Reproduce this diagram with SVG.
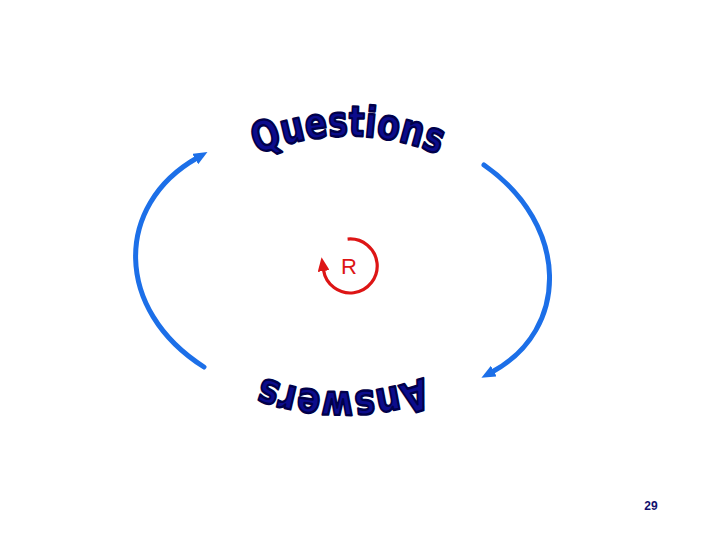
<svg xmlns="http://www.w3.org/2000/svg" xmlns:xlink="http://www.w3.org/1999/xlink" width="720" height="540" viewBox="0 0 720 540">
  <style>
    .word { font-family: "DejaVu Sans", "Liberation Sans", sans-serif; font-weight: bold; fill: #0c0c8c; stroke: #00004a; stroke-width: 2.4; stroke-linejoin: round; }
    .blue { fill: none; stroke: #1c6fe8; stroke-width: 5; stroke-linecap: round; }
    .red { fill: none; stroke: #dd1515; stroke-width: 3.2; }
  </style>
  <defs>
    <marker id="ab" viewBox="0 0 14 12" refX="2" refY="6" markerWidth="14" markerHeight="12" markerUnits="userSpaceOnUse" orient="auto">
      <path d="M0,0 L14,6 L0,12 z" fill="#1c6fe8"/>
    </marker>
    <marker id="ar" viewBox="0 0 14 12" refX="1" refY="6" markerWidth="14" markerHeight="12" markerUnits="userSpaceOnUse" orient="auto">
      <path d="M0,0 L14,6 L0,12 z" fill="#dd1515"/>
    </marker>
    <path id="qpath" d="M 238 164 A 230 230 0 0 1 458 164"/>
    <path id="apath" d="M 453 364 A 230 230 0 0 1 233 364"/>
  </defs>
  <rect width="720" height="540" fill="#ffffff"/>
  <g id="connectors">
    <path class="blue" d="M 204 367 C 114 310, 114 205, 197 158" marker-end="url(#ab)"/>
    <path class="blue" d="M 484 165 C 570 225, 570 330, 492 372" marker-end="url(#ab)"/>
  </g>
  <g id="questions">
    <text class="word" font-size="42"><textPath xlink:href="#qpath" href="#qpath" startOffset="50%" text-anchor="middle" textLength="186" lengthAdjust="spacingAndGlyphs">Questions</textPath></text>
  </g>
  <g id="answers">
    <text class="word" font-size="42"><textPath xlink:href="#apath" href="#apath" startOffset="50%" text-anchor="middle" textLength="164" lengthAdjust="spacingAndGlyphs">Answers</textPath></text>
  </g>
  <g id="r-loop">
    <path class="red" d="M 347.6 239.1 A 27 27 0 1 1 323.5 270" marker-end="url(#ar)"/>
    <text x="349" y="274" font-family="Liberation Sans, Arial, sans-serif" font-size="22" fill="#dd1515" text-anchor="middle">R</text>
  </g>
  <text x="651" y="510" font-family="Liberation Sans, Arial, sans-serif" font-size="12" font-weight="bold" fill="#10106e" text-anchor="middle">29</text>
</svg>
